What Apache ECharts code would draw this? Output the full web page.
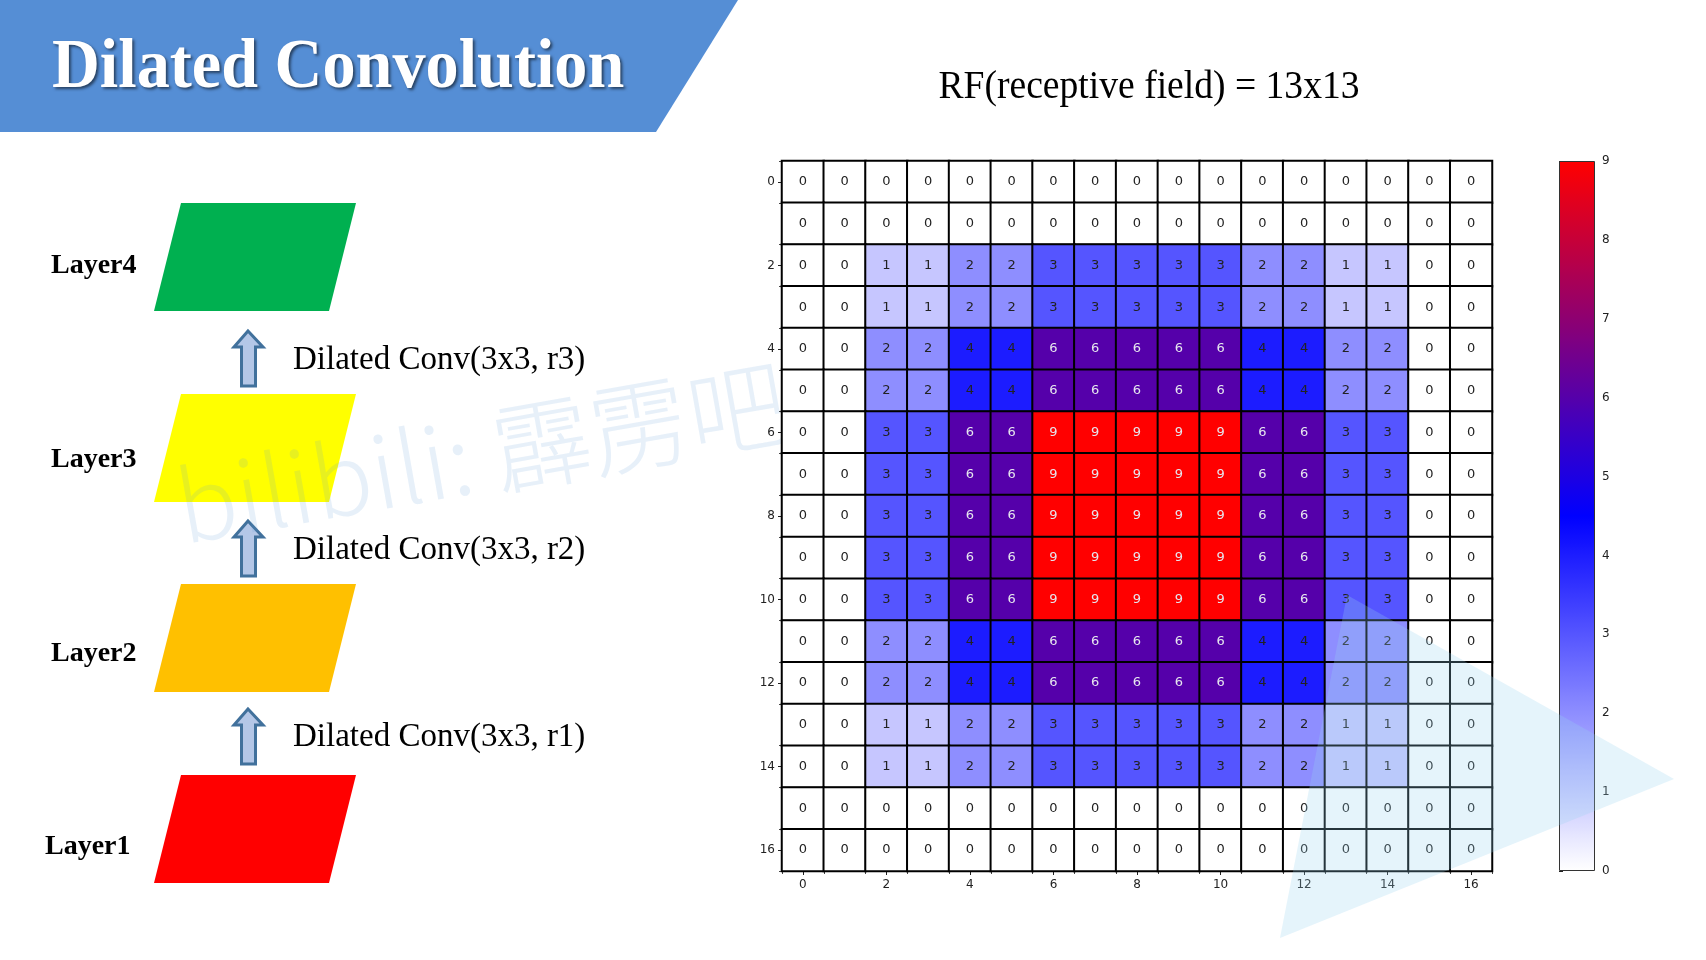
<!DOCTYPE html>
<html>
<head>
<meta charset="utf-8">
<script src="https://cdn.jsdelivr.net/npm/echarts@6/dist/echarts.min.js"></script>
<style>
html,body{margin:0;padding:0;background:#fff;}
#main{width:1706px;height:960px;}
</style>
</head>
<body>
<div id="main"></div>
<script>
// ---- data ----
const xCats = ['0','1','2','3','4','5','6','7','8','9','10','11','12','13','14','15','16'];
const yCats = ['0','1','2','3','4','5','6','7','8','9','10','11','12','13','14','15','16'];
const row0  = [0,0,0,0,0,0,0,0,0,0,0,0,0,0,0,0,0];
const row1  = [0,0,0,0,0,0,0,0,0,0,0,0,0,0,0,0,0];
const row2  = [0,0,1,1,2,2,3,3,3,3,3,2,2,1,1,0,0];
const row3  = [0,0,1,1,2,2,3,3,3,3,3,2,2,1,1,0,0];
const row4  = [0,0,2,2,4,4,6,6,6,6,6,4,4,2,2,0,0];
const row5  = [0,0,2,2,4,4,6,6,6,6,6,4,4,2,2,0,0];
const row6  = [0,0,3,3,6,6,9,9,9,9,9,6,6,3,3,0,0];
const row7  = [0,0,3,3,6,6,9,9,9,9,9,6,6,3,3,0,0];
const row8  = [0,0,3,3,6,6,9,9,9,9,9,6,6,3,3,0,0];
const row9  = [0,0,3,3,6,6,9,9,9,9,9,6,6,3,3,0,0];
const row10 = [0,0,3,3,6,6,9,9,9,9,9,6,6,3,3,0,0];
const row11 = [0,0,2,2,4,4,6,6,6,6,6,4,4,2,2,0,0];
const row12 = [0,0,2,2,4,4,6,6,6,6,6,4,4,2,2,0,0];
const row13 = [0,0,1,1,2,2,3,3,3,3,3,2,2,1,1,0,0];
const row14 = [0,0,1,1,2,2,3,3,3,3,3,2,2,1,1,0,0];
const row15 = [0,0,0,0,0,0,0,0,0,0,0,0,0,0,0,0,0];
const row16 = [0,0,0,0,0,0,0,0,0,0,0,0,0,0,0,0,0];
const rows = [row0,row1,row2,row3,row4,row5,row6,row7,row8,row9,row10,row11,row12,row13,row14,row15,row16];
const colorMin = 0;
const colorMax = 9;
const titleText = 'Dilated Convolution';
const rfText = 'RF(receptive field) = 13x13';
const layerNames = ['Layer4','Layer3','Layer2','Layer1'];
const layerColors = ['#00B050','#FFFF00','#FFC000','#FF0000'];
const convLabels = ['Dilated Conv(3x3, r3)','Dilated Conv(3x3, r2)','Dilated Conv(3x3, r1)'];
const watermarkText = 'bilibili: 霹雳吧啦Wz';

// ---- build ----
const heatData = [];
rows.forEach((r, yi) => r.forEach((v, xi) => heatData.push({
  value:[xi, yi, v],
  label:{color: v >= 6 ? '#e6e6ee' : '#222'}
})));

const serif = '"Liberation Serif", "Times New Roman", serif';
const graphics = [];

// title banner
graphics.push({type:'polygon', z:0, shape:{points:[[0,0],[738,0],[656,132],[0,132]]}, style:{fill:'#558ED5'}});
graphics.push({type:'text', z:1, x:52, y:69, scaleX:0.96, style:{text:titleText, font:'bold 69px ' + serif, fill:'#ffffff',
  textVerticalAlign:'middle', verticalAlign:'middle', shadowColor:'rgba(0,0,0,0.55)', shadowBlur:3, shadowOffsetX:2, shadowOffsetY:2,
  textShadowColor:'rgba(0,0,0,0.55)', textShadowBlur:3, textShadowOffsetX:2, textShadowOffsetY:2}});

// RF text
graphics.push({type:'text', z:1, x:1149, y:87, scaleX:0.94, style:{text:rfText, font:'40px ' + serif, fill:'#000', textAlign:'center', align:'center', textVerticalAlign:'middle', verticalAlign:'middle'}});

// layers
const layerTops = [203, 394, 584, 775];
const layerLabelX = [51, 51, 51, 45];
const layerLabelY = [266, 460, 654, 847];
layerNames.forEach((n, i) => {
  const t = layerTops[i], b = t + 108;
  graphics.push({type:'polygon', z:0, shape:{points:[[181,t],[356,t],[329,b],[154,b]]}, style:{fill:layerColors[i]}});
  graphics.push({type:'text', z:1, x:layerLabelX[i], y:layerLabelY[i], style:{text:n, font:'bold 28px ' + serif, fill:'#000', textVerticalAlign:'middle', verticalAlign:'middle'}});
});

// arrows + conv labels
const arrowTips = [331, 521, 709];
const convY = [360, 550, 737];
convLabels.forEach((c, i) => {
  const t = arrowTips[i];
  graphics.push({type:'polygon', z:1, shape:{points:[[248,t],[263,t+16],[255.5,t+16],[255.5,t+55],[241.5,t+55],[241.5,t+16],[234,t+16]]},
    style:{fill:'#B4C7E7', stroke:'#41719C', lineWidth:3, lineJoin:'miter'}});
  graphics.push({type:'text', z:1, x:293, y:convY[i], style:{text:c, font:'33px ' + serif, fill:'#000', textVerticalAlign:'middle', verticalAlign:'middle'}});
});

// watermark
graphics.push({type:'text', z:1, x:186, y:556, rotation:10*Math.PI/180, style:{text:watermarkText,
  font:'300 99px "Noto Sans CJK SC", "Noto Sans", sans-serif', fill:'rgba(91,155,213,0.15)', textVerticalAlign:'bottom', verticalAlign:'bottom'}});

// colorbar border
graphics.push({type:'rect', z:50, shape:{x:1559.5, y:161.5, width:35, height:709}, style:{fill:'none', stroke:'#333', lineWidth:1}});

// decorative triangle overlay
graphics.push({type:'polygon', z:100, shape:{points:[[1347,595],[1674,779],[1280,938]]}, style:{fill:'rgba(150,210,240,0.25)'}});

const axisFont = {fontFamily:'"DejaVu Sans", sans-serif', fontSize:12, color:'#222'};

const option = {
  backgroundColor:'#ffffff',
  animation:false,
  grid:[
    {left:782, top:161, width:710, height:710},
    {left:1559, top:161, width:36, height:710}
  ],
  xAxis:[
    {type:'category', gridIndex:0, data:xCats, position:'bottom',
     axisLine:{show:true, lineStyle:{color:'#000', width:2}},
     axisTick:{show:true, alignWithLabel:true, interval:1, length:4, lineStyle:{color:'#222'}},
     axisLabel:Object.assign({interval:1, margin:8}, axisFont), splitLine:{show:false}},
    {type:'category', gridIndex:0, data:xCats, position:'bottom',
     axisLine:{show:false}, axisTick:{show:true, interval:0, length:3, lineStyle:{color:'#444'}},
     axisLabel:{show:false}},
    {type:'value', gridIndex:1, show:false, min:0, max:1}
  ],
  yAxis:[
    {type:'category', gridIndex:0, data:yCats, inverse:true, position:'left',
     axisLine:{show:true, lineStyle:{color:'#000', width:2}},
     axisTick:{show:true, alignWithLabel:true, interval:1, length:4, lineStyle:{color:'#222'}},
     axisLabel:Object.assign({interval:1, margin:7}, axisFont), splitLine:{show:false}},
    {type:'category', gridIndex:0, data:yCats, inverse:true, position:'left',
     axisLine:{show:false}, axisTick:{show:true, interval:0, length:3, lineStyle:{color:'#444'}},
     axisLabel:{show:false}},
    {type:'value', gridIndex:1, min:colorMin, max:colorMax, interval:1, position:'right',
     axisLine:{show:false}, axisTick:{show:true, length:4, lineStyle:{color:'#222'}},
     axisLabel:Object.assign({margin:7}, axisFont, {fontSize:12}), splitLine:{show:false}}
  ],
  visualMap:{
    type:'continuous', min:colorMin, max:colorMax, seriesIndex:0, calculable:false, hoverLink:false,
    left:1559, top:161, itemWidth:36, itemHeight:710, padding:0, orient:'vertical',
    inRange:{color:['#ffffff','#0000ff','#ff0000']}
  },
  graphic:graphics,
  series:[{
    type:'heatmap', xAxisIndex:0, yAxisIndex:0, data:heatData, z:2,
    itemStyle:{borderColor:'#000', borderWidth:2},
    label:{show:true, fontFamily:'"DejaVu Sans", sans-serif', fontSize:13, color:'#222'},
    emphasis:{disabled:true}
  }]
};

const chart = echarts.init(document.getElementById('main'), null, {renderer:'canvas'});
chart.setOption(option);
</script>
</body>
</html>
